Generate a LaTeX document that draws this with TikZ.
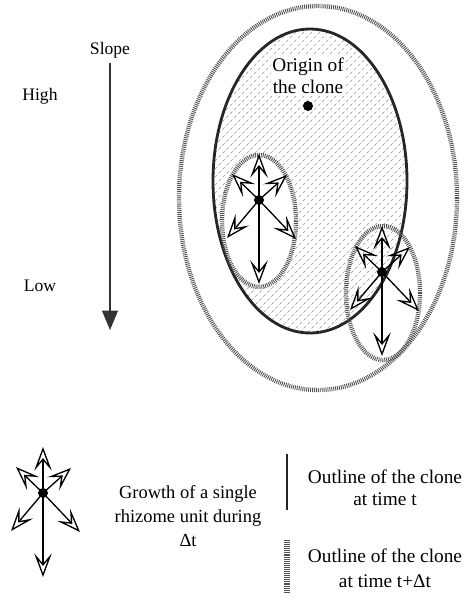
\documentclass[tikz,border=0pt]{standalone}
\usepackage{fontspec}
\setmainfont{Liberation Serif}
\usetikzlibrary{arrows.meta,positioning}
\definecolor{cloneGray}{RGB}{80,80,80}
\definecolor{hatchGray}{RGB}{150,150,150}

\begin{document}
\begin{tikzpicture}[
  x=0.02cm, y=-0.02cm,
  txt/.style={align=center, font=\fontsize{10}{11.5}\selectfont, inner sep=0pt},
  bigtxt/.style={align=center, font=\fontsize{11}{12.5}\selectfont, inner sep=0pt},
  cloneline/.style={line width=1.6pt, black!85},
  dotline/.style={line width=2.5pt, cloneGray, dash pattern=on 0.5pt off 0.6pt},
  hatch/.style={hatchGray, line width=0.35pt, dash pattern=on 1.8pt off 1.4pt},
  growarrow/.style={-{Stealth[open,length=13.5pt,width=10pt,inset=6pt]}, line width=0.75pt},
  slopearrow/.style={-{Triangle[length=11pt,width=9pt]}, line width=0.9pt, black!80},
  rhizome/.pic={
    \draw[growarrow] (0,0) -- (0,-46);
    \draw[growarrow] (0,0) -- (0,84);
    \draw[growarrow] (0,0) -- (-27,-26);
    \draw[growarrow] (0,0) -- (28,-25);
    \draw[growarrow] (0,0) -- (-32,38);
    \draw[growarrow] (0,0) -- (37,39);
    \fill (0,0) circle (5);
  }
]
  \useasboundingbox (0,0) rectangle (468,599);

  % clone outlines
  \draw[dotline] (318,198) ellipse [x radius=139, y radius=192];
  \begin{scope}
    \clip (310,181) ellipse [x radius=97, y radius=152];
    \foreach \c in {-200,-192,...,420}
      \draw[hatch] (\c,400) -- (\c+400,0);
  \end{scope}
  \fill[white] (259,221) ellipse [x radius=37, y radius=66];
  \draw[cloneline] (310,181) ellipse [x radius=97, y radius=152];
  \draw[dotline] (259,221) ellipse [x radius=37, y radius=66];
  \draw[dotline] (383,293) ellipse [x radius=37, y radius=67];

  % origin
  \node[bigtxt, fill=white, inner sep=1pt] (origin) at (308,76) {Origin of\\the clone};
  \fill (308,106) circle (5);

  % rhizome units
  \pic at (259,200) {rhizome};
  \pic at (382,272) {rhizome};

  % slope
  \node[txt] (slope) at (110,50) {Slope};
  \node[txt] (high) at (40,96) {High};
  \node[txt] (low) at (40,286) {Low};
  \coordinate (slopetop) at (110,63);
  \coordinate (slopetip) at (110,330);
  \draw[slopearrow] (slopetop) -- (slopetip);

  % legend
  \pic at (43,493) {rhizome};
  \node[txt, font=\fontsize{10.5}{13.5}\selectfont] (growth) at (188,516)
    {Growth of a single\\rhizome unit during\\Δt};
  \draw[line width=1.7pt, black!85] (287,454) -- (287,510);
  \node[bigtxt] (outlinet) at (385,488) {Outline of the clone\\at time t};
  \draw[dotline, line width=3pt] (287,540) -- (287,593);
  \node[bigtxt, font=\fontsize{11}{14}\selectfont] (outlinedt) at (385,568)
    {Outline of the clone\\at time t+Δt};
\end{tikzpicture}
\end{document}
